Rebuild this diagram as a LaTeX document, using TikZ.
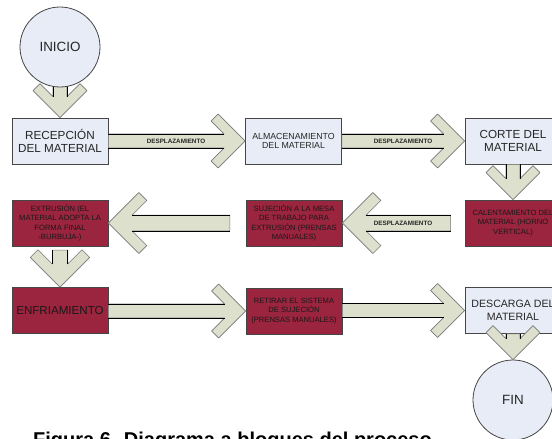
\documentclass[tikz,border=0pt]{standalone}
\usepackage{fontspec}
\setmainfont{Liberation Sans}
\usetikzlibrary{calc}
\definecolor{boxblue}{RGB}{231,236,246}
\definecolor{boxred}{RGB}{155,36,62}
\definecolor{arrfill}{RGB}{221,224,204}
\definecolor{bordergray}{RGB}{70,70,70}
\definecolor{headgray}{RGB}{120,120,120}
\pgfdeclarelayer{front}
\pgfsetlayers{main,front}
\tikzset{
  bluebox/.style={draw=bordergray, line width=0.8pt, fill=boxblue, minimum width=96pt, minimum height=46pt, inner sep=1pt, align=center, text=black!85},
  redbox/.style={draw=bordergray, line width=0.8pt, fill=boxred, minimum width=96pt, minimum height=46pt, inner sep=1pt, align=center, text=black!90},
  endcircle/.style={circle, draw=bordergray, line width=0.8pt, fill=boxblue, minimum size=80pt, inner sep=0pt, text=black!85, font=\fontsize{13.4}{15}\selectfont},
  headfill/.style={fill=arrfill, draw=headgray, line width=0.6pt, line join=round},
  shaftline/.style={draw=black, line width=0.8pt},
  lbl/.style={inner sep=0pt, font=\fontsize{6.3}{7}\selectfont\bfseries, text=black!85},
  bigtxt/.style={font=\fontsize{11.7}{13.3}\selectfont},
  midtxt/.style={font=\fontsize{10.6}{12.5}\selectfont},
  smalltxt/.style={font=\fontsize{8.8}{9.5}\selectfont},
  tinytxt/.style={font=\fontsize{7.6}{9.4}\selectfont},
}
% #1 start anchor, #2 tip anchor, #3 rotation, #4 scale
\newcommand\blockarrow[4]{%
  \begin{scope}[shift={(#2)}, rotate=#3, scale=#4]
    \filldraw[headfill] let \p1=(#1), \p2=(#2), \n1={veclen(\x2-\x1,\y2-\y1)/#4} in
      (-\n1,-7pt) -- (-21pt,-7pt) -- (-34pt,-20pt) -- (-27pt,-27pt) -- (0pt,0pt)
      -- (-27pt,27pt) -- (-34pt,20pt) -- (-21pt,7pt) -- (-\n1,7pt) -- cycle;
    \draw[shaftline] let \p1=(#1), \p2=(#2), \n1={veclen(\x2-\x1,\y2-\y1)/#4} in
      (-\n1,-7pt) -- (-21pt,-7pt) (-\n1,7pt) -- (-21pt,7pt);
  \end{scope}}
\begin{document}
\begin{tikzpicture}[x=1pt, y=-1pt]
\clip (0,0) rectangle (552,439);
\fill[white] (0,0) rectangle (552,439);

% boxes
\node[bluebox, bigtxt] (rec) at (60,141) {RECEPCIÓN\\DEL MATERIAL};
\node[bluebox, smalltxt] (alm) at (293.5,141) {ALMACENAMIENTO\\DEL MATERIAL};
\node[bluebox, bigtxt] (cor) at (513,141) {CORTE DEL\\MATERIAL};
\node[redbox, tinytxt] (cal) at (513,223) {CALENTAMIENTO DEL\\MATERIAL (HORNO\\VERTICAL)};
\node[redbox, tinytxt] (suj) at (294,223) {SUJECIÓN A LA MESA\\DE TRABAJO PARA\\EXTRUSIÓN (PRENSAS\\MANUALES)};
\node[redbox, tinytxt] (ext) at (60,223) {EXTRUSIÓN (EL\\MATERIAL ADOPTA LA\\FORMA FINAL\\-BURBUJA-)};
\node[redbox, font=\fontsize{11.6}{13}\selectfont] (enf) at (60,310.5) {ENFRIAMIENTO};
\node[redbox, tinytxt] (ret) at (294,311) {RETIRAR EL SISTEMA\\DE SUJECIÓN\\(PRENSAS MANUALES)};
\node[bluebox, midtxt] (des) at (513,310.5) {DESCARGA DEL\\MATERIAL};

% circles
\begin{pgfonlayer}{front}
\node[endcircle] (ini) at (60,47) {INICIO};
\end{pgfonlayer}
\node[endcircle] (fin) at (513,400) {FIN};

% arrows
\blockarrow{ini.center}{rec.north}{-90}{1}
\blockarrow{rec.east}{alm.west}{0}{1}
\blockarrow{alm.east}{cor.west}{0}{1}
\blockarrow{cor.south}{cal.north}{-90}{1}
\blockarrow{cal.west}{suj.east}{180}{1.13}
\blockarrow{suj.west}{ext.east}{180}{1.13}
\blockarrow{ext.south}{enf.north}{-90}{1.1}
\blockarrow{enf.east}{ret.west}{0}{1}
\blockarrow{ret.east}{des.west}{0}{1}
\blockarrow{des.south}{fin.north}{-90}{1}

% labels
\node[lbl] (d1) at (176,141) {DESPLAZAMIENTO};
\node[lbl] (d2) at (403,141) {DESPLAZAMIENTO};
\node[lbl] (d3) at (403,223) {DESPLAZAMIENTO};

% caption
\node[anchor=base west, inner sep=0pt, font=\fontsize{20}{22}\selectfont\bfseries] (cap) at (33,446) {Figura 6. Diagrama a bloques del proceso};
\end{tikzpicture}
\end{document}
